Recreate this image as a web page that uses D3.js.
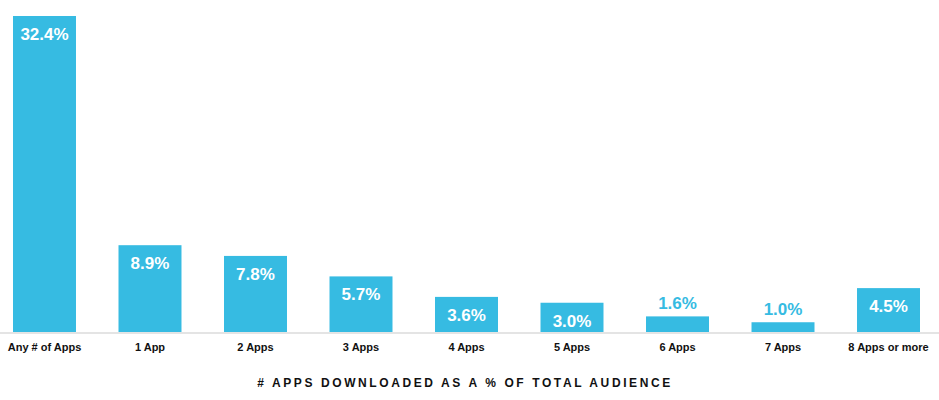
<!DOCTYPE html>
<html><head><meta charset="utf-8">
<script src="https://cdn.jsdelivr.net/npm/d3@7"></script>
<style>body{margin:0;background:#fff}svg{display:block}</style>
</head><body>
<script>
const categories = ["Any # of Apps","1 App","2 Apps","3 Apps","4 Apps","5 Apps","6 Apps","7 Apps","8 Apps or more"];
const values = [32.4, 8.9, 7.8, 5.7, 3.6, 3.0, 1.6, 1.0, 4.5];
const labels = ["32.4%","8.9%","7.8%","5.7%","3.6%","3.0%","1.6%","1.0%","4.5%"];
const title = "# APPS DOWNLOADED AS A % OF TOTAL AUDIENCE";

const W = 939, H = 400, baseY = 332;
const barColor = "#36bbe2";
const svg = d3.select("body").append("svg").attr("width", W).attr("height", H);
const x = d3.scaleBand().domain(categories).range([13, 920]).paddingInner(0.403).paddingOuter(0);
const y = d3.scaleLinear().domain([0, 32.4]).range([baseY, 16]);

svg.append("line").attr("x1", 0).attr("x2", W).attr("y1", baseY + 1).attr("y2", baseY + 1)
  .attr("stroke", "#e4e4e4").attr("stroke-width", 2);

const data = categories.map((c, i) => ({c, v: values[i], l: labels[i]}));
svg.selectAll("rect.bar").data(data).join("rect").attr("class", "bar")
  .attr("x", d => x(d.c)).attr("width", x.bandwidth())
  .attr("y", d => y(d.v)).attr("height", d => baseY - y(d.v)).attr("fill", barColor);

svg.selectAll("text.val").data(data).join("text").attr("class", "val")
  .attr("x", d => x(d.c) + x.bandwidth() / 2)
  .attr("y", d => d.v < 2.5 ? y(d.v) - 7 : y(d.v) + 24)
  .attr("text-anchor", "middle")
  .attr("font-family", "Liberation Sans, Arial, sans-serif").attr("font-weight", "bold").attr("font-size", 17)
  .attr("fill", d => d.v < 2.5 ? barColor : "#fff")
  .text(d => d.l);

const xAxis = d3.axisBottom(x).tickSize(0).tickPadding(0);
const gx = svg.append("g").attr("transform", `translate(0,${baseY})`).call(xAxis);
gx.select(".domain").remove();
gx.selectAll("text").attr("dy", null).attr("y", 19)
  .attr("font-family", "Liberation Sans, Arial, sans-serif").attr("font-weight", "bold").attr("font-size", 11)
  .attr("fill", "#111");

svg.append("text").attr("x", 465).attr("y", 387).attr("text-anchor", "middle")
  .attr("font-family", "Liberation Sans, Arial, sans-serif").attr("font-weight", "bold").attr("font-size", 12)
  .attr("letter-spacing", "2.6px").attr("fill", "#111").text(title);
</script>
</body></html>
